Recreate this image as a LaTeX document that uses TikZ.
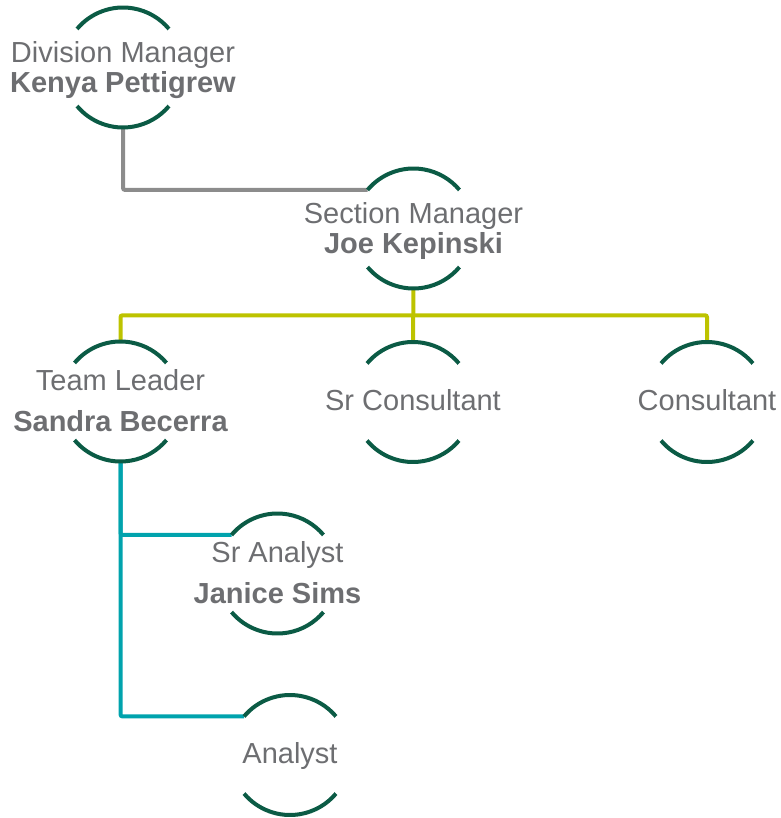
\documentclass[tikz,border=0pt]{standalone}
\usepackage{fontspec}
\setmainfont{Liberation Sans}
\usetikzlibrary{calc}
\definecolor{ringgreen}{HTML}{0B5B45}
\definecolor{linkgray}{HTML}{8C8C8C}
\definecolor{linklime}{HTML}{BDC300}
\definecolor{linkteal}{HTML}{00A3AD}
\definecolor{textgray}{HTML}{6D6E71}

\begin{document}
\begin{tikzpicture}[x=1pt,y=1pt,
    member/.style={circle, minimum size=120pt, inner sep=0pt, outer sep=0pt},
    titletext/.style={font=\fontsize{29}{30}\selectfont, text=textgray, anchor=base, inner sep=0pt},
    nametext/.style={titletext, font=\fontsize{29}{30}\selectfont\bfseries},
    ring/.style={ringgreen, line width=4pt},
    link/.style={line width=4pt, rounded corners=2pt}]
\def\rad{60}

\useasboundingbox (0,0) rectangle (780,-818);

% Members (empty circles, arcs drawn later)
\node[member] (div) at (123,-67.5) {};
\node[member] (sec) at (413.5,-228.5) {};
\node[member] (lead) at (120.5,-401.5) {};
\node[member] (srcons) at (413,-402) {};
\node[member] (cons) at (707,-402) {};
\node[member] (sran) at (277.5,-573.5) {};
\node[member] (an) at (290,-755) {};

% Titles and names
\node[titletext] (div-t) at ([yshift=4.5]div.center) {Division Manager};
\node[nametext] (div-n) at ([yshift=-25]div.center) {Kenya Pettigrew};
\node[titletext] (sec-t) at ([yshift=4.5]sec.center) {Section Manager};
\node[nametext] (sec-n) at ([yshift=-25]sec.center) {Joe Kepinski};
\node[titletext] (lead-t) at ([yshift=11.5]lead.center) {Team Leader};
\node[nametext] (lead-n) at ([yshift=-29.5]lead.center) {Sandra Becerra};
\node[titletext] (srcons-t) at ([yshift=-8.5]srcons.center) {Sr Consultant};
\node[titletext] (cons-t) at ([yshift=-8.5]cons.center) {Consultant};
\node[titletext] (sran-t) at ([yshift=11.5]sran.center) {Sr Analyst};
\node[nametext] (sran-n) at ([yshift=-29.5]sran.center) {Janice Sims};
\node[titletext] (an-t) at ([yshift=-8.5]an.center) {Analyst};

% Connectors
\draw[link, linkgray] (div.south) |- (sec.140);
\coordinate (bus) at ($(sec.south)!.5!(srcons.north)$);
\draw[link, linklime] (sec.south) -- (srcons.north);
\draw[link, linklime] (lead.north) |- (bus) -| (cons.north);
\draw[link, linkteal] (lead.south) |- (sran.140);
\draw[link, linkteal] (lead.south) |- (an.140);

% Arcs above and below each member
\foreach \n in {div,sec,lead,srcons,cons,sran,an} {
    \draw[ring] (\n.140) arc (140:40:\rad pt);
    \draw[ring] (\n.220) arc (220:320:\rad pt);
}
\end{tikzpicture}
\end{document}
